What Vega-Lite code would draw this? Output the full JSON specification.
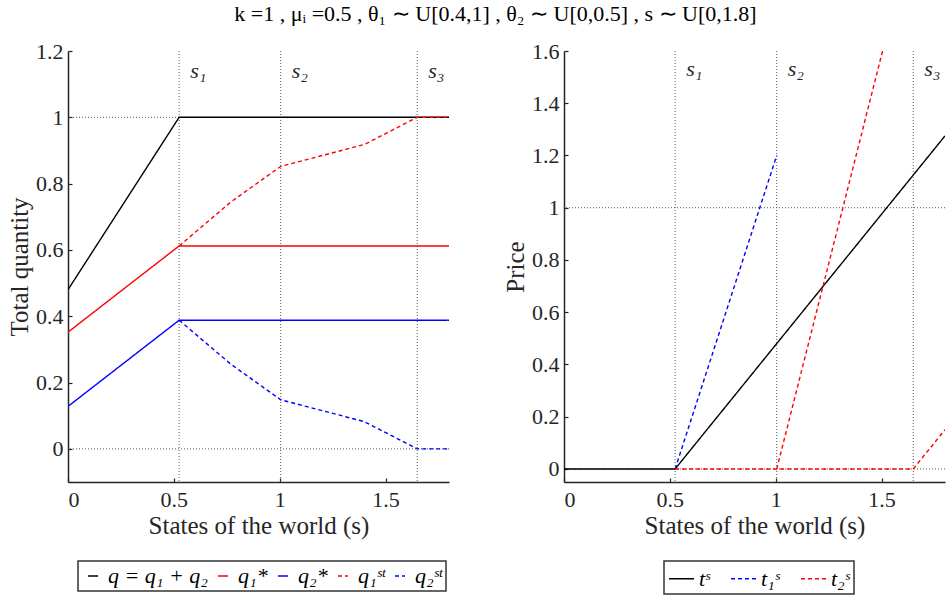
{
  "$schema": "https://vega.github.io/schema/vega-lite/v6.json",
  "background": "white",
  "padding": {"left": 7, "top": 3, "right": 0, "bottom": 0},
  "title": {"text": "k =1 , μᵢ =0.5 , θ₁ ∼ U[0.4,1] , θ₂ ∼ U[0,0.5] , s ∼ U[0,1.8]", "font": "Liberation Serif", "fontSize": 22, "fontWeight": "normal", "color": "#000", "anchor": "middle", "offset": 14, "dx": 19},
  "config": {
    "view": {"stroke": null},
    "font": "Liberation Serif",
    "axis": {"grid": false, "domainColor": "#262626", "domainWidth": 1.5, "tickColor": "#262626", "tickWidth": 1.2, "tickSize": -4, "labelPadding": 9, "labelFont": "Liberation Serif", "labelFontSize": 22, "labelColor": "#262626", "titleFont": "Liberation Serif", "titleFontSize": 25, "titleFontWeight": "normal", "titleColor": "#262626"},
    "axisX": {"labelPadding": 11, "titlePadding": 3},
    "legend": {"orient": "none", "direction": "horizontal", "title": null, "strokeColor": "#333", "strokeWidth": 1.5, "padding": 4, "fillColor": "white", "labelFont": "Liberation Serif", "labelFontSize": 22, "labelFontStyle": "italic", "labelColor": "#000", "symbolType": "stroke", "symbolStrokeWidth": 1.5, "columnPadding": 4, "labelOffset": 4}
  },
  "resolve": {"scale": {"color": "independent", "strokeDash": "independent"}, "legend": {"color": "independent", "strokeDash": "independent"}},
  "spacing": 53,
  "hconcat": [
    {
      "width": 381,
      "height": 431,
      "layer": [
        {
          "data": {"values": [{"s": 0.525, "lab": "s₁"}, {"s": 1.005, "lab": "s₂"}, {"s": 1.65, "lab": "s₃"}]},
          "mark": {"type": "rule", "strokeDash": [1, 2], "color": "#555", "strokeWidth": 1},
          "encoding": {"x": {"field": "s", "type": "quantitative", "scale": {"domain": [0, 1.8], "nice": false}, "axis": {"values": [0, 0.5, 1, 1.5], "format": "~g", "title": "States of the world (s)"}}}
        },
        {
          "data": {"values": [{"v": 0}, {"v": 1}]},
          "mark": {"type": "rule", "strokeDash": [1, 2], "color": "#555", "strokeWidth": 1},
          "encoding": {"y": {"field": "v", "type": "quantitative", "scale": {"domain": [-0.1, 1.2], "nice": false, "zero": false}, "axis": {"values": [0, 0.2, 0.4, 0.6, 0.8, 1, 1.2], "format": "~g", "title": "Total quantity", "titlePadding": 3}}}
        },
        {
          "data": {"values": [
            {"series": "q = q₁ + q₂", "s": 0, "v": 0.48},
            {"series": "q = q₁ + q₂", "s": 0.525, "v": 1},
            {"series": "q = q₁ + q₂", "s": 1.8, "v": 1},
            {"series": "q₁*", "s": 0, "v": 0.352},
            {"series": "q₁*", "s": 0.525, "v": 0.612},
            {"series": "q₁*", "s": 1.8, "v": 0.612},
            {"series": "q₂*", "s": 0, "v": 0.128},
            {"series": "q₂*", "s": 0.525, "v": 0.388},
            {"series": "q₂*", "s": 1.8, "v": 0.388},
            {"series": "q₁ˢᵗ", "s": 0.525, "v": 0.612},
            {"series": "q₁ˢᵗ", "s": 0.77, "v": 0.745},
            {"series": "q₁ˢᵗ", "s": 1.005, "v": 0.852},
            {"series": "q₁ˢᵗ", "s": 1.4, "v": 0.918},
            {"series": "q₁ˢᵗ", "s": 1.65, "v": 1},
            {"series": "q₁ˢᵗ", "s": 1.8, "v": 1},
            {"series": "q₂ˢᵗ", "s": 0.525, "v": 0.388},
            {"series": "q₂ˢᵗ", "s": 0.77, "v": 0.255},
            {"series": "q₂ˢᵗ", "s": 1.005, "v": 0.148},
            {"series": "q₂ˢᵗ", "s": 1.4, "v": 0.082},
            {"series": "q₂ˢᵗ", "s": 1.65, "v": 0},
            {"series": "q₂ˢᵗ", "s": 1.8, "v": 0}
          ]},
          "mark": {"type": "line", "strokeWidth": 1.4, "clip": true},
          "encoding": {
            "x": {"field": "s", "type": "quantitative"},
            "y": {"field": "v", "type": "quantitative"},
            "color": {"field": "series", "type": "nominal", "sort": null, "scale": {"domain": ["q = q₁ + q₂", "q₁*", "q₂*", "q₁ˢᵗ", "q₂ˢᵗ"], "range": ["#000000", "#ff0000", "#0000ff", "#ff0000", "#0000ff"]}, "legend": {"symbolSize": 100, "legendX": 10, "legendY": 510}},
            "strokeDash": {"field": "series", "type": "nominal", "sort": null, "scale": {"domain": ["q = q₁ + q₂", "q₁*", "q₂*", "q₁ˢᵗ", "q₂ˢᵗ"], "range": [[1, 0], [1, 0], [1, 0], [4, 3], [4, 3]]}, "legend": {"symbolSize": 100, "legendX": 10, "legendY": 510}}
          }
        },
        {
          "data": {"values": [{"s": 0.525, "lab": "s₁"}, {"s": 1.005, "lab": "s₂"}, {"s": 1.65, "lab": "s₃"}]},
          "mark": {"type": "text", "align": "left", "baseline": "middle", "dx": 11, "fontSize": 22, "fontStyle": "italic", "color": "#262626"},
          "encoding": {"x": {"field": "s", "type": "quantitative"}, "y": {"datum": 1.14}, "text": {"field": "lab"}}
        }
      ]
    },
    {
      "width": 381,
      "height": 431,
      "layer": [
        {
          "data": {"values": [{"s": 0.525, "lab": "s₁"}, {"s": 1.005, "lab": "s₂"}, {"s": 1.65, "lab": "s₃"}]},
          "mark": {"type": "rule", "strokeDash": [1, 2], "color": "#555", "strokeWidth": 1},
          "encoding": {"x": {"field": "s", "type": "quantitative", "scale": {"domain": [0, 1.8], "nice": false}, "axis": {"values": [0, 0.5, 1, 1.5], "format": "~g", "title": "States of the world (s)"}}}
        },
        {
          "data": {"values": [{"v": 0}, {"v": 1}]},
          "mark": {"type": "rule", "strokeDash": [1, 2], "color": "#555", "strokeWidth": 1},
          "encoding": {"y": {"field": "v", "type": "quantitative", "scale": {"domain": [-0.05, 1.6], "nice": false, "zero": false}, "axis": {"values": [0, 0.2, 0.4, 0.6, 0.8, 1, 1.2, 1.4, 1.6], "format": "~g", "title": "Price", "titlePadding": 3}}}
        },
        {
          "data": {"values": [
            {"series": "tˢ", "seg": "a", "s": 0, "v": 0},
            {"series": "tˢ", "seg": "a", "s": 0.525, "v": 0},
            {"series": "tˢ", "seg": "a", "s": 1.8, "v": 1.275},
            {"series": "t₁ˢ", "seg": "a", "s": 0.525, "v": 0},
            {"series": "t₁ˢ", "seg": "a", "s": 1.005, "v": 1.2},
            {"series": "t₂ˢ", "seg": "a", "s": 0.525, "v": 0},
            {"series": "t₂ˢ", "seg": "a", "s": 1.65, "v": 0},
            {"series": "t₂ˢ", "seg": "b", "s": 1.005, "v": 0},
            {"series": "t₂ˢ", "seg": "b", "s": 1.505, "v": 1.6},
            {"series": "t₂ˢ", "seg": "c", "s": 1.65, "v": 0},
            {"series": "t₂ˢ", "seg": "c", "s": 1.8, "v": 0.15}
          ]},
          "mark": {"type": "line", "strokeWidth": 1.4, "clip": true},
          "encoding": {
            "x": {"field": "s", "type": "quantitative"},
            "y": {"field": "v", "type": "quantitative"},
            "detail": {"field": "seg"},
            "color": {"field": "series", "type": "nominal", "sort": null, "scale": {"domain": ["tˢ", "t₁ˢ", "t₂ˢ"], "range": ["#000000", "#0000ff", "#ff0000"]}, "legend": {"symbolSize": 625, "legendX": 100, "legendY": 510, "columnPadding": 18}},
            "strokeDash": {"field": "series", "type": "nominal", "sort": null, "scale": {"domain": ["tˢ", "t₁ˢ", "t₂ˢ"], "range": [[1, 0], [4, 3], [4, 3]]}, "legend": {"symbolSize": 625, "legendX": 100, "legendY": 510, "columnPadding": 18}}
          }
        },
        {
          "data": {"values": [{"s": 0.525, "lab": "s₁"}, {"s": 1.005, "lab": "s₂"}, {"s": 1.65, "lab": "s₃"}]},
          "mark": {"type": "text", "align": "left", "baseline": "middle", "dx": 11, "fontSize": 22, "fontStyle": "italic", "color": "#262626"},
          "encoding": {"x": {"field": "s", "type": "quantitative"}, "y": {"datum": 1.53}, "text": {"field": "lab"}}
        }
      ]
    }
  ]
}
